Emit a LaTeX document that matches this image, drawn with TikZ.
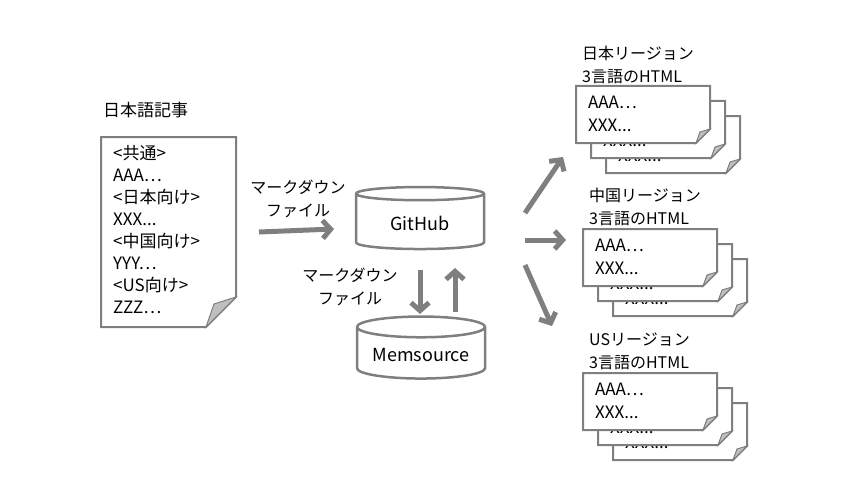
\documentclass[tikz,border=0pt]{standalone}
\usepackage{fontspec}
\setmainfont{Noto Sans CJK JP}
\usetikzlibrary{arrows.meta,shapes.geometric,positioning,calc}

\definecolor{linegray}{HTML}{7F7F7F}
\definecolor{foldgray}{HTML}{BFBFBF}

% one page with a folded corner; #1 = name, #2 = top left
\newcommand{\htmlpage}[2]{%
  \coordinate (#1) at #2;
  \draw[page] (#1) -- ++(134,0) -- ++(0,43) -- ++(-14,14) -- ++(-120,0) -- cycle;
  \draw[fold] ($(#1)+(134,43)$) -- ++(-10,3) -- ++(-4,11) -- cycle;
  \node[txt] at ($(#1)+(12,16)$) {AAA…};
  \node[txt] at ($(#1)+(12,39)$) {XXX...};
}

\begin{document}
\begin{tikzpicture}[x=1pt, y=-1pt,
    txt/.style = {anchor=west, inner sep=0pt, font=\fontsize{17}{20}\selectfont},
    lbl/.style = {align=center, inner sep=0pt, font=\fontsize{16}{23}\selectfont},
    page/.style = {draw=linegray, line width=2pt, fill=white},
    fold/.style = {draw=linegray, line width=1pt, fill=foldgray},
    db/.style = {cylinder, shape border rotate=90, draw=linegray, line width=2.5pt,
      minimum width=128, minimum height=62, aspect=0.2, font=\fontsize{18}{20}\selectfont},
    flow/.style = {draw=linegray, line width=5pt, -{Straight Barb[length=8pt, width=18pt]}}]
  \useasboundingbox (0,0) rectangle (850,500);

  % source article
  \node[txt] at (103,110) {日本語記事};
  \draw[page] (101,137) -- (236,137) -- (236,297) -- (206,327) -- (101,327) -- cycle;
  \draw[fold] (236,297) -- (214,304) -- (206,327) -- cycle;
  \foreach \t [count=\i from 0] in {<共通>, AAA…, <日本向け>, XXX{.}.., <中国向け>, YYY…, <US向け>, ZZZ…}
    \node[txt] at (113,153+22*\i) {\t};

  % repositories
  \node[db] (gh) at (420,223) {GitHub};
  \node[db] (ms) at (421,355) {Memsource};

  \coordinate (a1) at (259,232);
  \coordinate (a2) at (334,229);
  \draw[flow] (a1) -- (a2);
  \node[lbl] at (298,199) {マークダウン\\ファイル};

  \coordinate (d1) at (420,270);
  \coordinate (d2) at (420,314);
  \coordinate (u1) at (455,312);
  \coordinate (u2) at (455,268);
  \draw[flow] (d1) -- (d2);
  \draw[flow] (u1) -- (u2);
  \node[lbl] at (350,287) {マークダウン\\ファイル};

  % output pages
  \foreach \n/\x/\y in {j3/606/116, j2/591/101, j1/576/86,
                        c3/613/259, c2/598/244, c1/583/229,
                        u3/613/403, u2/598/388, u1/583/373}
    \htmlpage{\n}{(\x,\y)};

  \node[lbl, anchor=south west, align=left] at (582,84) {日本リージョン\\3言語のHTML};
  \node[lbl, anchor=south west, align=left] at (589,226) {中国リージョン\\3言語のHTML};
  \node[lbl, anchor=south west, align=left] at (589,370) {USリージョン\\3言語のHTML};

  \coordinate (o) at (525,213);
  \coordinate (p) at (525,240);
  \coordinate (q) at (525,265);
  \coordinate (oj) at (563,157);
  \coordinate (oc) at (566,240);
  \coordinate (ou) at (552,326);
  \draw[flow] (o) -- (oj);
  \draw[flow] (p) -- (oc);
  \draw[flow] (q) -- (ou);
\end{tikzpicture}
\end{document}
